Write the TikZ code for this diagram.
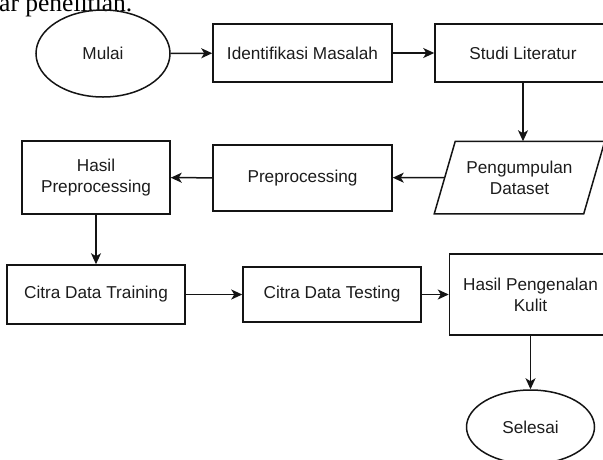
\documentclass[tikz,border=0pt]{standalone}
\usepackage{fontspec}
\setmainfont{Liberation Sans}
\newfontfamily\captionserif{Liberation Serif}
\usetikzlibrary{shapes.geometric,arrows.meta}

\definecolor{inkline}{HTML}{141414}
\definecolor{inktext}{HTML}{1C1C1C}

\tikzset{
  base/.style={draw=inkline, line width=1.5pt, text=inktext, inner sep=2pt,
    font=\fontsize{17.2}{21}\selectfont, align=center},
  procbox/.style={base, rectangle},
  terminal/.style={base, ellipse, inner sep=0pt},
  % text area of the data box; its outline is drawn as a slanted parallelogram
  iotext/.style={base, draw=none, rectangle, inner sep=0pt},
  flow/.style={draw=inkline, line width=1.5pt, -{Stealth[length=11pt,width=10pt,inset=3pt]}}
}

\begin{document}
\begin{tikzpicture}[x=1pt,y=-1pt]
  \useasboundingbox (0,0) rectangle (603,459);
  \clip (0,0) rectangle (603,459);

  % caption line running above the chart
  \node[anchor=base west, inner sep=0pt, font=\captionserif\fontsize{25.5}{28}\selectfont]
    (cap) at (-1,11) {ar penelitian.};

  % first row
  \node[terminal, minimum width=134pt, minimum height=87pt] (mulai) at (103,53.5) {Mulai};
  \node[procbox, minimum width=179pt, minimum height=58pt] (ident) at (302.5,53) {Identifikasi Masalah};
  \node[procbox, minimum width=176pt, minimum height=58pt] (studi) at (523,53) {Studi Literatur};

  % second row
  \node[iotext, minimum width=148pt, minimum height=71pt] (kumpul) at (519.5,177.5) {Pengumpulan\\Dataset};
  \draw[draw=inkline, line width=1.5pt, line join=miter]
    ([xshift=-10.5pt]kumpul.south west) -- ([xshift=-10.5pt]kumpul.south east)
    -- ([xshift=10.5pt]kumpul.north east) -- ([xshift=10.5pt]kumpul.north west) -- cycle;
  \node[procbox, minimum width=179pt, minimum height=66pt] (prep) at (302.5,178) {Preprocessing};
  \node[procbox, minimum width=148pt, minimum height=73pt] (hasilp) at (96,177.5) {Hasil\\Preprocessing};

  % third row
  \node[procbox, minimum width=178pt, minimum height=59pt] (train) at (96,294.5) {Citra Data Training};
  \node[procbox, minimum width=178pt, minimum height=55pt] (test) at (332,294.5) {Citra Data Testing};
  \node[procbox, minimum width=162pt, minimum height=81pt] (hasilk) at (530.5,294.5) {Hasil Pengenalan\\Kulit};
  \node[terminal, minimum width=128pt, minimum height=74pt] (selesai) at (530.5,427) {Selesai};

  % connectors
  \draw[flow] (mulai) -- (ident);
  \draw[flow] (ident) -- (studi);
  \draw[flow] (studi.south) -- (studi.south |- kumpul.north);
  \draw[flow] (kumpul.west) -- (prep);
  \draw[flow] (prep) -- (hasilp);
  \draw[flow] (hasilp) -- (train);
  \draw[flow] (train) -- (test);
  \draw[flow] (test) -- (hasilk);
  \draw[flow] (hasilk) -- (selesai);
\end{tikzpicture}
\end{document}
